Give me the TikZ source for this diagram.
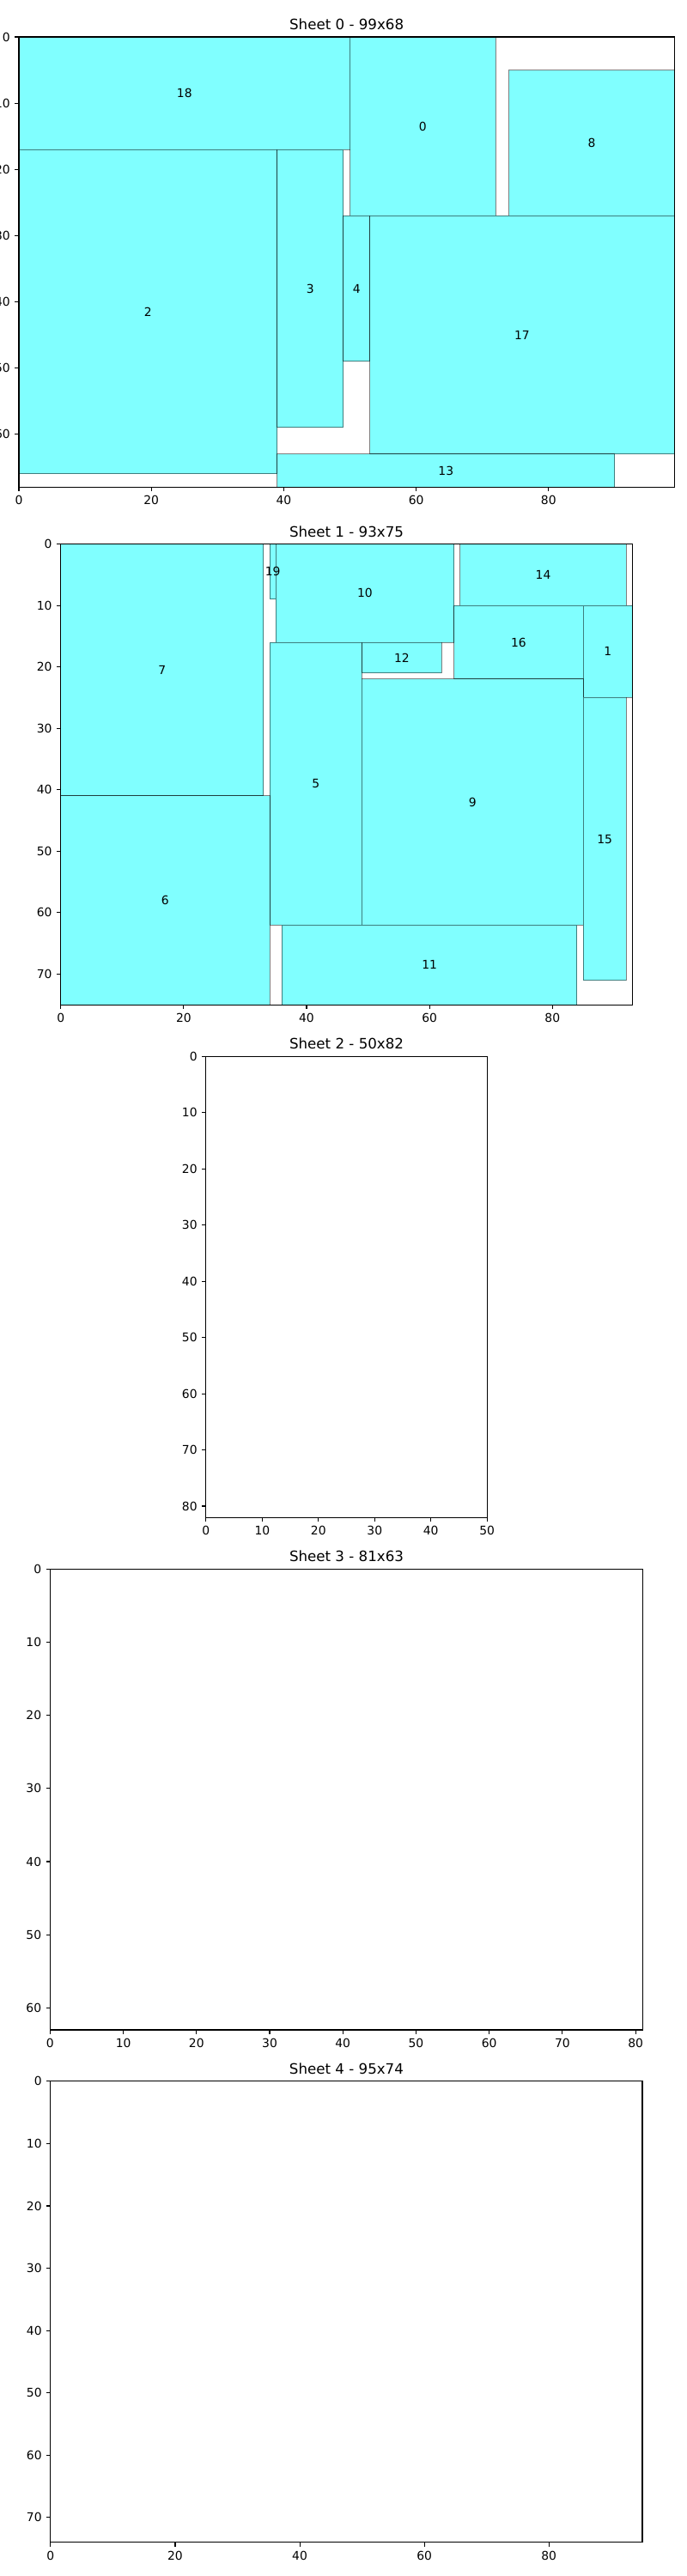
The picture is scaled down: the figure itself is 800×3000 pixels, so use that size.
\documentclass[tikz,border=0pt]{standalone}
\usepackage{fontspec}
\setmainfont{DejaVu Sans}
\definecolor{piecefill}{RGB}{128,255,255}
\tikzset{
  piece/.style={fill=piecefill, draw=black, draw opacity=0.5, line width=1bp},
  lbl/.style={font=\fontsize{13.94}{16}\selectfont, inner sep=0pt, anchor=center},
  axframe/.style={draw=black, line width=1.1bp},
  tickline/.style={line width=1.1bp},
  ticklbl/.style={font=\fontsize{13.94}{16}\selectfont, inner sep=0pt},
  ttl/.style={font=\fontsize{16.73}{19}\selectfont, inner sep=0pt, anchor=base},
}
% #1 W, #2 H, #3 x tick list, #4 y tick list, #5 title, #6 prefix
\newcommand\sheetaxes[6]{%
  \draw[axframe] (0,0) rectangle (#1,#2);
  \foreach \t in {#3} \draw[tickline] (\t,#2) -- ++(0bp,-4.86bp) node[ticklbl,anchor=north,yshift=-4.86bp] (#6x\t) {\t};
  \foreach \t in {#4} \draw[tickline] (0,\t) -- ++(-4.86bp,0bp) node[ticklbl,anchor=east,xshift=-4.86bp] (#6y\t) {\t};
  \node[ttl] (#6title) at ({#1/2},0) [yshift=8.33bp] {#5};
}
\begin{document}
\begin{tikzpicture}[x=1bp,y=-1bp]
\useasboundingbox (0,0) rectangle (800,3000);

% ---------------- Sheet 0 ----------------
\begin{scope}[shift={(22.0,43.0)}]
\begin{scope}[x=7.71bp,y=-7.71bp]
  \draw[piece] (50,0) rectangle (72,27);
  \draw[piece] (74,5) rectangle (99,27);
  \draw[piece] (0,0) rectangle (50,17);
  \draw[piece] (0,17) rectangle (39,66);
  \draw[piece] (39,17) rectangle (49,59);
  \draw[piece] (49,27) rectangle (53,49);
  \draw[piece] (53,27) rectangle (99,63);
  \draw[piece] (39,63) rectangle (90,68);
  \node[lbl] (a0) at (61,13.5) {0};
  \node[lbl] (a8) at (86.5,16) {8};
  \node[lbl] (a18) at (25,8.5) {18};
  \node[lbl] (a2) at (19.5,41.5) {2};
  \node[lbl] (a3) at (44,38) {3};
  \node[lbl] (a4) at (51,38) {4};
  \node[lbl] (a17) at (76,45) {17};
  \node[lbl] (a13) at (64.5,65.5) {13};
  \sheetaxes{99}{68}{0,20,...,80}{0,10,...,60}{Sheet 0 - 99x68}{sa}
\end{scope}
\end{scope}

% ---------------- Sheet 1 ----------------
\begin{scope}[shift={(70.7,633.5)}]
\begin{scope}[x=7.157bp,y=-7.157bp]
  \draw[piece] (0,0) rectangle (33,41);
  \draw[piece] (34,0) rectangle (35,9);
  \draw[piece] (35,0) rectangle (64,16);
  \draw[piece] (65,0) rectangle (92,10);
  \draw[piece] (64,10) rectangle (85,22);
  \draw[piece] (85,10) rectangle (93,25);
  \draw[piece] (49,16) rectangle (62,21);
  \draw[piece] (34,16) rectangle (49,62);
  \draw[piece] (49,22) rectangle (85,62);
  \draw[piece] (0,41) rectangle (34,75);
  \draw[piece] (36,62) rectangle (84,75);
  \draw[piece] (85,25) rectangle (92,71);
  \node[lbl] (b7) at (16.5,20.5) {7};
  \node[lbl] (b19) at (34.5,4.5) {19};
  \node[lbl] (b10) at (49.5,8) {10};
  \node[lbl] (b14) at (78.5,5) {14};
  \node[lbl] (b16) at (74.5,16) {16};
  \node[lbl] (b1) at (89,17.5) {1};
  \node[lbl] (b12) at (55.5,18.5) {12};
  \node[lbl] (b5) at (41.5,39) {5};
  \node[lbl] (b9) at (67,42) {9};
  \node[lbl] (b6) at (17,58) {6};
  \node[lbl] (b11) at (60,68.5) {11};
  \node[lbl] (b15) at (88.5,48) {15};
  \sheetaxes{93}{75}{0,20,...,80}{0,10,...,70}{Sheet 1 - 93x75}{sb}
\end{scope}
\end{scope}

% ---------------- Sheet 2 ----------------
\begin{scope}[shift={(239.9,1230.3)}]
\begin{scope}[x=6.546bp,y=-6.546bp]
  \sheetaxes{50}{82}{0,10,...,50}{0,10,...,80}{Sheet 2 - 50x82}{sc}
\end{scope}
\end{scope}

% ---------------- Sheet 3 ----------------
\begin{scope}[shift={(58.4,1827.1)}]
\begin{scope}[x=8.521bp,y=-8.521bp]
  \sheetaxes{81}{63}{0,10,...,80}{0,10,...,60}{Sheet 3 - 81x63}{sd}
\end{scope}
\end{scope}

% ---------------- Sheet 4 ----------------
\begin{scope}[shift={(58.9,2423.9)}]
\begin{scope}[x=7.254bp,y=-7.254bp]
  \sheetaxes{95}{74}{0,20,...,80}{0,10,...,70}{Sheet 4 - 95x74}{se}
\end{scope}
\end{scope}
\end{tikzpicture}
\end{document}
